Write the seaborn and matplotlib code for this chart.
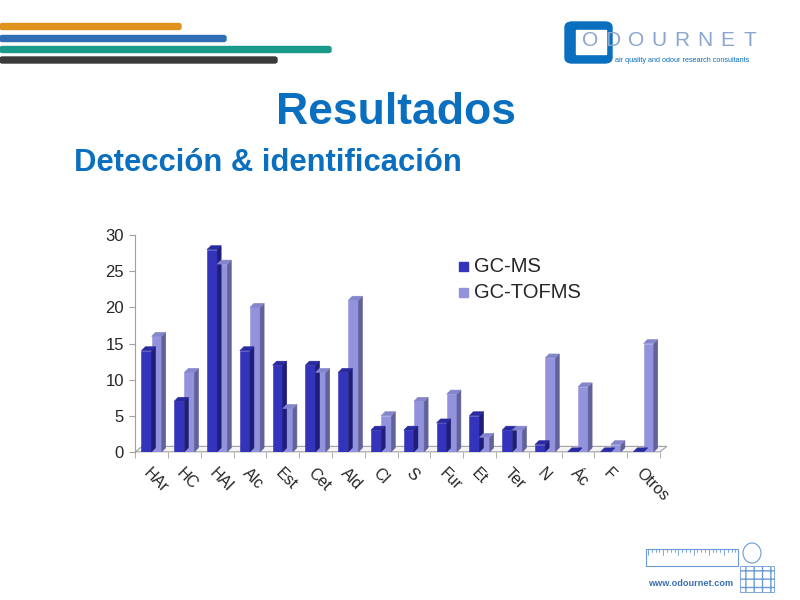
import pandas as pd
import seaborn as sns
import matplotlib.pyplot as plt
from matplotlib.patches import Polygon, Rectangle, FancyBboxPatch, Ellipse
from matplotlib.lines import Line2D

# Data
categorias = ["HAr", "HC", "HAl", "Alc", "Est", "Cet", "Ald", "Cl", "S",
              "Fur", "Et", "Ter", "N", "Ác", "F", "Otros"]
gc_ms = [14, 7, 28, 14, 12, 12, 11, 3, 3, 4, 5, 3, 1, 0, 0, 0]
gc_tofms = [16, 11, 26, 20, 6, 11, 21, 5, 7, 8, 2, 3, 13, 9, 1, 15]

df = pd.DataFrame({"cat": categorias * 2,
                   "valor": gc_ms + gc_tofms,
                   "metodo": ["GC-MS"] * len(gc_ms) + ["GC-TOFMS"] * len(gc_tofms)})

sns.set_style("white")
plt.rcParams['font.family'] = ['Liberation Sans', 'DejaVu Sans']

colores = {"GC-MS": "#3333BB", "GC-TOFMS": "#9393DD"}
lados = {"GC-MS": "#1E1E78", "GC-TOFMS": "#62629A"}
topes = {"GC-MS": "#2A2AA0", "GC-TOFMS": "#8585CC"}

fig = plt.figure(figsize=(8, 6), dpi=100)
ax = fig.add_axes([0.169, 0.247, 0.656, 0.361])

sns.barplot(data=df, x="cat", y="valor", hue="metodo", palette=colores,
            width=0.62, saturation=1, ax=ax, legend=False, linewidth=0, zorder=3)

n = len(categorias)
# floor of the 3D box (drawn behind bars)
fdx, fdy = 0.21, 0.75
gris = "#A0A0A0"
ax.add_patch(Polygon([(-0.5, 0), (-0.5 + fdx, fdy), (n - 0.5 + fdx, fdy), (n - 0.5, 0)],
                     closed=True, facecolor="#F4F4F4", edgecolor=gris, lw=0.8,
                     zorder=1, clip_on=False))

# fake 3D side + top for each bar
dx, dy = 0.12, 0.55
for p in list(ax.patches)[:-1]:
    x0, w, h = p.get_x(), p.get_width(), p.get_height()
    fc = p.get_facecolor()
    key = "GC-MS" if abs(fc[0] - 0x33 / 255) < 0.05 else "GC-TOFMS"
    p.set_edgecolor(colores[key])
    p.set_linewidth(0.4)
    side = Polygon([(x0 + w, 0), (x0 + w + dx, dy), (x0 + w + dx, h + dy), (x0 + w, h)],
                   closed=True, facecolor=lados[key], edgecolor=lados[key], lw=0.4, zorder=3)
    top = Polygon([(x0, h), (x0 + dx, h + dy), (x0 + w + dx, h + dy), (x0 + w, h)],
                  closed=True, facecolor=topes[key], edgecolor=topes[key], lw=0.4, zorder=3)
    ax.add_patch(side)
    ax.add_patch(top)

ax.set_ylim(0, 30)
ax.set_xlim(-0.5, n - 0.5)
ax.set_yticks(range(0, 31, 5))
ax.set_xticks(range(n))
ax.set_xticks([i - 0.5 for i in range(n + 1)], minor=True)
ax.set_xticklabels(categorias)
ax.set_xlabel("")
ax.set_ylabel("")
for s in ["top", "right", "bottom"]:
    ax.spines[s].set_visible(False)
ax.spines["left"].set_color(gris)
ax.tick_params(axis="y", labelsize=12, length=4, color=gris, left=True, pad=4)
ax.tick_params(axis="x", which="major", labelsize=11.5, length=0, pad=10)
ax.tick_params(axis="x", which="minor", length=4, color=gris, bottom=True)
plt.setp(ax.get_xticklabels(), rotation=-45, ha="left", rotation_mode="anchor")

# legend
for i, k in enumerate(["GC-MS", "GC-TOFMS"]):
    fig.patches.append(Rectangle((459 / 800, 1 - (271 + i * 26) / 600), 9 / 800, 9 / 600,
                                 transform=fig.transFigure, color=colores[k]))
    fig.text(474 / 800, 1 - (266 + i * 26) / 600, k, fontsize=14.5, va="center")

# slide titles
fig.text(0.495, 1 - 113 / 600, "Resultados", fontsize=32, fontweight="bold",
         color="#0A6FBE", ha="center", va="center")
fig.text(0.093, 1 - 163 / 600, "Detección & identificación", fontsize=22.3,
         fontweight="bold", color="#0A6FBE", ha="left", va="center")

# decorative stripes
for y, xe, c in [(26.5, 181, "#E0921E"), (38.5, 226, "#2F6DB5"),
                 (49.5, 331, "#1A9A8A"), (60, 277, "#3A3A3A")]:
    fig.patches.append(FancyBboxPatch((0, 1 - (y + 3) / 600), xe / 800, 6 / 600,
                                      boxstyle="round,pad=0,rounding_size=0.003",
                                      transform=fig.transFigure, color=c))

# logo top right
fig.patches.append(FancyBboxPatch((565 / 800, 1 - 63 / 600), 47 / 800, 41 / 600,
                                  boxstyle="round,pad=0,rounding_size=0.009",
                                  transform=fig.transFigure, color="#0A6FBE"))
fig.patches.append(Rectangle((576 / 800, 1 - 54 / 600), 30 / 800, 24 / 600,
                             transform=fig.transFigure, color="white"))
for i, letra in enumerate("ODOURNET"):
    fig.text((582 + i * 23) / 800, 1 - 41 / 600, letra, fontsize=15, color="#8AA6CF",
             ha="left", va="center")
fig.text(615 / 800, 1 - 60 / 600, "air quality and odour research consultants",
         fontsize=5.2, color="#0A6FBE", ha="left", va="center")

# footer logo
azul = "#6C9AD6"
fig.patches.append(Rectangle((646 / 800, 1 - 566 / 600), 92 / 800, 17 / 600,
                             transform=fig.transFigure, fill=False, edgecolor=azul, lw=0.8))
for i in range(24):
    xx = (648 + i * 3.8) / 800
    largo = 6 if i % 4 == 0 else 3
    fig.add_artist(Line2D([xx, xx], [1 - 549 / 600, 1 - (549 + largo) / 600],
                          transform=fig.transFigure, color=azul, lw=0.6))
fig.patches.append(Ellipse((752 / 800, 1 - 553 / 600), 18 / 800, 20 / 600,
                           transform=fig.transFigure, fill=False, edgecolor=azul, lw=0.8))
fig.patches.append(Rectangle((740 / 800, 1 - 592 / 600), 34 / 800, 26 / 600,
                             transform=fig.transFigure, fill=False, edgecolor=azul,
                             lw=0.6, hatch="++"))
fig.text(648 / 800, 1 - 583 / 600, "www.odournet.com", fontsize=6.6,
         color="#3A6FB0", ha="left", va="center", fontweight="bold")

fig.savefig("out.png", dpi=100)
